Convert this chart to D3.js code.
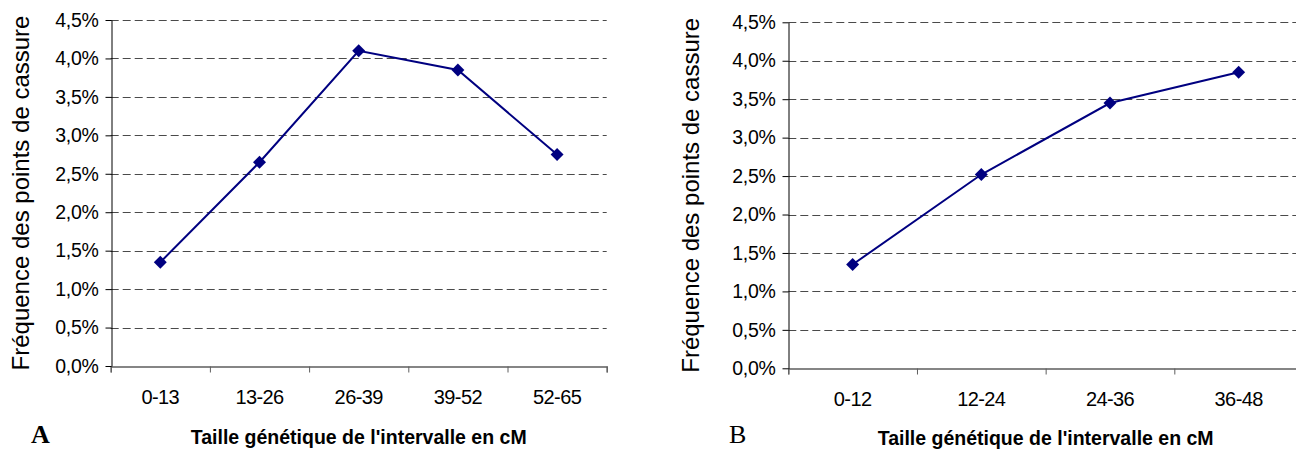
<!DOCTYPE html>
<html>
<head>
<meta charset="utf-8">
<script src="https://cdn.jsdelivr.net/npm/d3@7"></script>
<style>
  html, body { margin: 0; padding: 0; background: #fff; }
  svg { display: block; }
  text { font-family: "Liberation Sans", Arial, sans-serif; fill: #000; }
</style>
</head>
<body>
<svg id="chart" width="1296" height="450"></svg>
<script>
// ---- data ----
const categoriesA = ["0-13", "13-26", "26-39", "39-52", "52-65"];
const valuesA = [1.35, 2.65, 4.10, 3.85, 2.75];   // % breakpoints frequency
const categoriesB = ["0-12", "12-24", "24-36", "36-48"];
const valuesB = [1.35, 2.52, 3.45, 3.85];
const yTicks = [0, 0.5, 1.0, 1.5, 2.0, 2.5, 3.0, 3.5, 4.0, 4.5];
const yTitle = "Fréquence des points de cassure";
const xTitle = "Taille génétique de l'intervalle en cM";
const panelLabels = ["A", "B"];

const fr = d3.formatLocale({decimal: ",", thousands: " ", grouping: [3], currency: ["", "€"]});
const fmt = v => fr.format(".1f")(v) + "%";

const svg = d3.select("#chart");

function panel(cfg) {
  const {cats, vals, x0, x1, yBottom, yTop, titleX, label, labelBold, labelX, labelY, xTitleY, tickLabelY} = cfg;
  const g = svg.append("g");
  const y = d3.scaleLinear().domain([0, 4.5]).range([yBottom, yTop]);
  const xb = d3.scaleBand().domain(cats).range([x0, x1]);
  const xi = d3.scaleLinear().domain([0, cats.length]).range([x0, x1]);

  // gridlines
  g.append("g").selectAll("line").data(yTicks.filter(t => t > 0)).join("line")
    .attr("x1", x0).attr("x2", x1)
    .attr("y1", d => Math.round(y(d)) + 0.5).attr("y2", d => Math.round(y(d)) + 0.5)
    .attr("stroke", "#4a4a4a").attr("stroke-width", 1).attr("stroke-dasharray", "8,4");

  // x axis (boundary ticks)
  const xa = g.append("g").attr("transform", `translate(0,${Math.round(yBottom) + 0.5})`)
    .call(d3.axisBottom(xi).tickValues(d3.range(0, cats.length + 1)).tickSize(6).tickFormat(""));
  xa.select(".domain").attr("stroke", "#5e5e5e").attr("stroke-width", 1.3);
  xa.selectAll(".tick line").attr("stroke", "#5e5e5e");

  // x labels
  const xl = g.append("g").attr("transform", `translate(0,${tickLabelY})`)
    .call(d3.axisBottom(xb).tickSize(0).tickPadding(0));
  xl.select(".domain").remove();
  xl.selectAll("text").attr("font-size", 20).attr("font-family", "Liberation Sans, Arial, sans-serif")
    .attr("dy", 0).attr("y", 0).attr("letter-spacing", -0.6);

  // y axis
  const ya = g.append("g").attr("transform", `translate(${Math.round(x0) + 0.5},0)`)
    .call(d3.axisLeft(y).tickValues(yTicks).tickSize(6).tickPadding(7).tickFormat(fmt).tickSizeOuter(0));
  ya.select(".domain").attr("stroke", "#000");
  ya.selectAll(".tick line").attr("stroke", "#000");
  ya.selectAll("text").attr("font-size", 19.5).attr("font-family", "Liberation Sans, Arial, sans-serif")
    .attr("letter-spacing", -0.3);

  // line
  const line = d3.line().x((d, i) => xb(cats[i]) + xb.bandwidth() / 2).y(d => y(d));
  g.append("path").datum(vals).attr("d", line)
    .attr("fill", "none").attr("stroke", "#000080").attr("stroke-width", 2);
  g.append("g").selectAll("path").data(vals).join("path")
    .attr("d", d3.symbol(d3.symbolSquare, 84))
    .attr("transform", (d, i) => `translate(${xb(cats[i]) + xb.bandwidth() / 2},${y(d)}) rotate(45)`)
    .attr("fill", "#000080");

  // y title
  g.append("text").attr("transform", `translate(${titleX},${(yBottom + yTop) / 2}) rotate(-90)`)
    .attr("text-anchor", "middle").attr("font-size", 24).text(yTitle);

  // x title
  g.append("text").attr("x", (x0 + x1) / 2).attr("y", xTitleY)
    .attr("text-anchor", "middle").attr("font-size", 19.5).attr("font-weight", "bold").text(xTitle);

  // panel label
  g.append("text").attr("x", labelX).attr("y", labelY)
    .style("font-family", "'Liberation Serif', 'Times New Roman', serif")
    .attr("font-size", 26).attr("font-weight", labelBold ? "bold" : "normal").text(label);
}

panel({cats: categoriesA, vals: valuesA, x0: 110.7, x1: 606.7, yBottom: 366, yTop: 20,
  titleX: 29, label: panelLabels[0], labelBold: true, labelX: 31, labelY: 443, xTitleY: 444, tickLabelY: 404});
panel({cats: categoriesB, vals: valuesB, x0: 788.3, x1: 1303, yBottom: 368.3, yTop: 22.3,
  titleX: 699, label: panelLabels[1], labelBold: false, labelX: 729, labelY: 443, xTitleY: 445, tickLabelY: 406});
</script>
</body>
</html>
